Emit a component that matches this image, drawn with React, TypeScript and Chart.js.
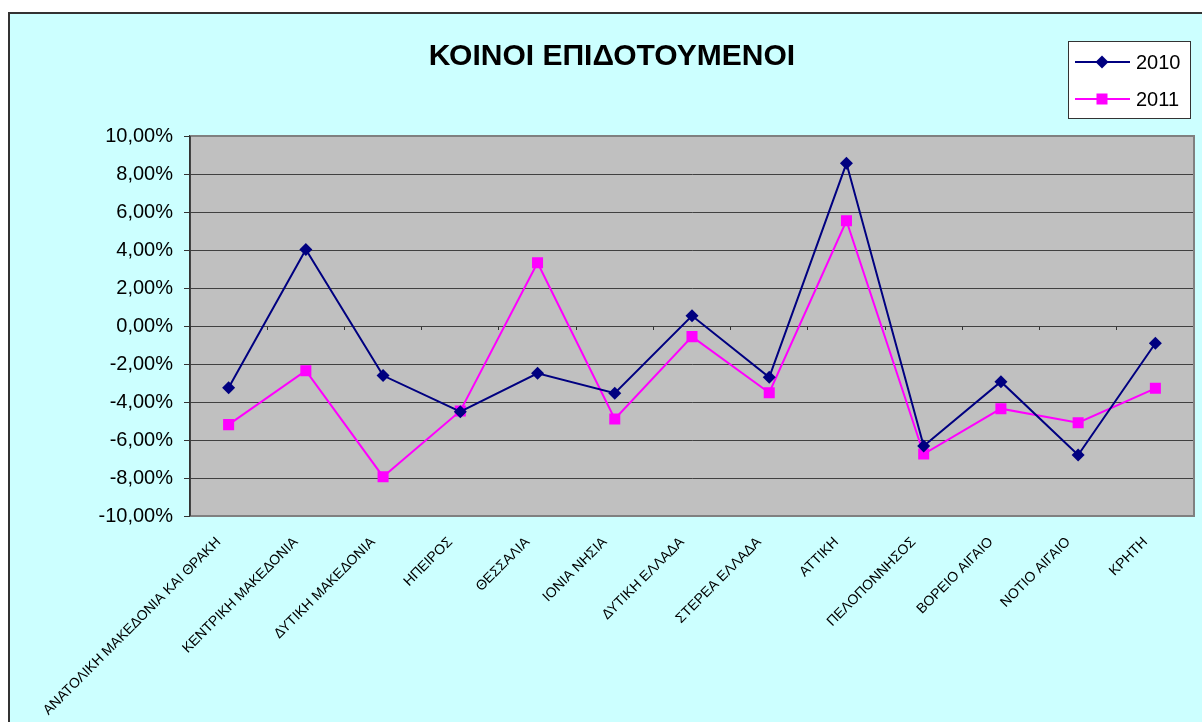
import React, { useEffect, useRef } from "react";
import { Chart, registerables } from "chart.js";

Chart.register(...registerables);

const regions = [
  "ΑΝΑΤΟΛΙΚΗ ΜΑΚΕΔΟΝΙΑ ΚΑΙ ΘΡΑΚΗ",
  "ΚΕΝΤΡΙΚΗ ΜΑΚΕΔΟΝΙΑ",
  "ΔΥΤΙΚΗ ΜΑΚΕΔΟΝΙΑ",
  "ΗΠΕΙΡΟΣ",
  "ΘΕΣΣΑΛΙΑ",
  "ΙΟΝΙΑ ΝΗΣΙΑ",
  "ΔΥΤΙΚΗ ΕΛΛΑΔΑ",
  "ΣΤΕΡΕΑ ΕΛΛΑΔΑ",
  "ΑΤΤΙΚΗ",
  "ΠΕΛΟΠΟΝΝΗΣΟΣ",
  "ΒΟΡΕΙΟ ΑΙΓΑΙΟ",
  "ΝΟΤΙΟ ΑΙΓΑΙΟ",
  "ΚΡΗΤΗ",
];

const values2010 = [-3.25, 4.03, -2.61, -4.51, -2.49, -3.54, 0.54, -2.7, 8.56, -6.32, -2.93, -6.79, -0.91];
const values2011 = [-5.19, -2.35, -7.93, -4.47, 3.33, -4.89, -0.56, -3.51, 5.54, -6.74, -4.35, -5.09, -3.28];

const seriesLabels = ["2010", "2011"];
const chartTitle = "ΚΟΙΝΟΙ ΕΠΙΔΟΤΟΥΜΕΝΟΙ";
const yMin = -10;
const yMax = 10;
const yStep = 2;

const FONT = "'Liberation Sans', Arial, sans-serif";

const plotFramePlugin = {
  id: "plotFrame",
  beforeDraw(chart: any) {
    const { ctx, chartArea: a } = chart;
    ctx.save();
    ctx.fillStyle = "#C0C0C0";
    ctx.fillRect(a.left, a.top, a.right - a.left, a.bottom - a.top);
    ctx.restore();
  },
  beforeDatasetsDraw(chart: any) {
    const { ctx, chartArea: a } = chart;
    ctx.save();
    ctx.strokeStyle = "#808080";
    ctx.lineWidth = 2;
    ctx.beginPath();
    ctx.moveTo(a.left, a.top);
    ctx.lineTo(a.right, a.top);
    ctx.lineTo(a.right, a.bottom);
    ctx.lineTo(a.left, a.bottom);
    ctx.stroke();
    ctx.strokeStyle = "#333333";
    ctx.lineWidth = 1.5;
    ctx.beginPath();
    ctx.moveTo(a.left, a.top);
    ctx.lineTo(a.left, a.bottom);
    ctx.stroke();
    ctx.restore();
  },
};

const boxLegendPlugin = {
  id: "boxLegend",
  afterDraw(chart: any) {
    const { ctx } = chart;
    const x0 = 1058;
    const y0 = 27;
    const w = 122;
    const h = 77;
    ctx.save();
    ctx.fillStyle = "#FFFFFF";
    ctx.fillRect(x0, y0, w, h);
    ctx.strokeStyle = "#333333";
    ctx.lineWidth = 1;
    ctx.strokeRect(x0 + 0.5, y0 + 0.5, w, h);
    const rows = [y0 + 21, y0 + 58];
    chart.data.datasets.forEach((ds: any, i: number) => {
      const y = rows[i];
      ctx.strokeStyle = ds.borderColor;
      ctx.lineWidth = 2;
      ctx.beginPath();
      ctx.moveTo(x0 + 7, y);
      ctx.lineTo(x0 + 62, y);
      ctx.stroke();
      ctx.fillStyle = ds.pointBackgroundColor;
      const cx = x0 + 34;
      if (ds.pointStyle === "rectRot") {
        const r = 6.5;
        ctx.beginPath();
        ctx.moveTo(cx, y - r);
        ctx.lineTo(cx + r, y);
        ctx.lineTo(cx, y + r);
        ctx.lineTo(cx - r, y);
        ctx.closePath();
        ctx.fill();
      } else {
        ctx.fillRect(cx - 5.5, y - 5.5, 11, 11);
      }
      ctx.fillStyle = "#000000";
      ctx.font = `20px ${FONT}`;
      ctx.textAlign = "left";
      ctx.textBaseline = "middle";
      ctx.fillText(ds.label, x0 + 68, y + 1);
    });
    ctx.restore();
  },
};

export default function App() {
  const canvasRef = useRef<HTMLCanvasElement | null>(null);

  useEffect(() => {
    if (!canvasRef.current) return;
    Chart.defaults.font.family = FONT;
    Chart.defaults.color = "#000000";
    const titleSize = 30;
    const titleTop = 24.4;
    const chart = new Chart(canvasRef.current, {
      type: "line",
      data: {
        labels: regions,
        datasets: [
          {
            label: seriesLabels[0],
            data: values2010,
            borderColor: "#000080",
            backgroundColor: "#000080",
            pointBackgroundColor: "#000080",
            pointBorderColor: "#000080",
            pointStyle: "rectRot",
            pointRadius: 6.5,
            pointBorderWidth: 0,
            borderWidth: 2,
            tension: 0,
          },
          {
            label: seriesLabels[1],
            data: values2011,
            borderColor: "#FF00FF",
            backgroundColor: "#FF00FF",
            pointBackgroundColor: "#FF00FF",
            pointBorderColor: "#FF00FF",
            pointStyle: "rect",
            pointRadius: 7.8,
            pointBorderWidth: 0,
            borderWidth: 2,
            tension: 0,
          },
        ],
      },
      options: {
        responsive: false,
        animation: false,
        layout: { padding: { left: 20, right: 8, top: 0, bottom: 0 } },
        plugins: {
          legend: { display: false },
          tooltip: { enabled: false },
          title: {
            display: true,
            text: chartTitle,
            color: "#000000",
            font: { size: titleSize, weight: "bold", family: FONT, lineHeight: 1.2 },
            padding: { top: titleTop, bottom: 122 - titleTop - titleSize * 1.2 },
          },
        },
        scales: {
          x: {
            type: "category",
            position: "bottom",
            offset: true,
            grid: { display: false, drawTicks: false },
            border: { display: false },
            ticks: {
              autoSkip: false,
              minRotation: 45,
              maxRotation: 45,
              padding: 18,
              labelOffset: -10,
              font: { size: 14, family: FONT },
              color: "#000000",
            },
            afterFit: (scale: any) => {
              scale.height = 206;
            },
          },
          x2: {
            type: "category",
            position: { y: 0 } as any,
            offset: true,
            grid: {
              display: true,
              offset: true,
              drawOnChartArea: false,
              drawTicks: true,
              tickLength: 4,
              color: "#333333",
              tickColor: "#333333",
            },
            border: { display: false },
            ticks: { display: false },
          },
          y: {
            type: "linear",
            position: "left",
            min: yMin,
            max: yMax,
            grid: {
              color: "#404040",
              lineWidth: 1,
              drawTicks: true,
              tickLength: 6,
              tickColor: "#333333",
            },
            border: { display: true, color: "#333333", width: 1.5 },
            ticks: {
              stepSize: yStep,
              padding: 11,
              font: { size: 20, family: FONT },
              color: "#000000",
              callback: (v: any) => Number(v).toFixed(2).replace(".", ",") + "%",
            },
            afterFit: (scale: any) => {
              scale.width = 160;
            },
          },
        },
      },
      plugins: [plotFramePlugin, boxLegendPlugin],
    } as any);
    return () => chart.destroy();
  }, []);

  return (
    <div
      style={{
        position: "fixed",
        left: 8,
        top: 12,
        width: 1194,
        height: 720,
        background: "#CCFFFF",
        borderLeft: "2px solid #333333",
        borderTop: "2px solid #333333",
        overflow: "hidden",
      }}
    >
      <canvas ref={canvasRef} width={1192} height={708} style={{ display: "block", width: 1192, height: 708 }} />
    </div>
  );
}
